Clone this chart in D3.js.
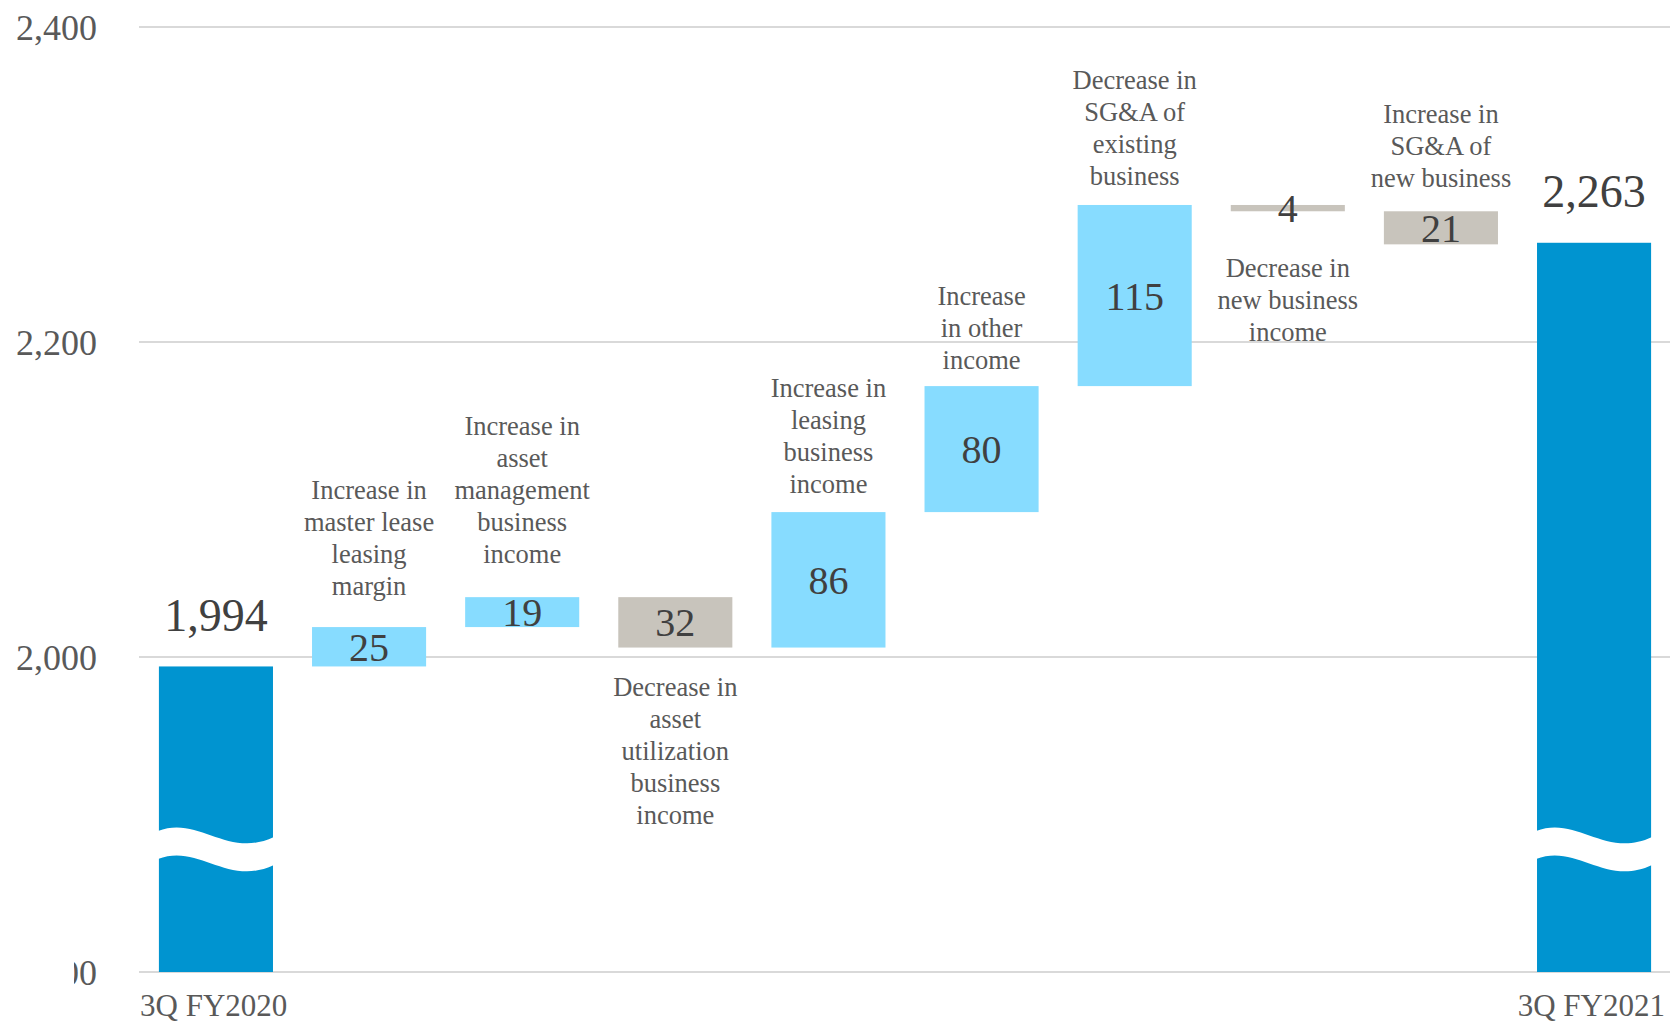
<html>
<head>
  <title>3Q FY2020 to 3Q FY2021 bridge</title>
  <script src="https://d3js.org/d3.v7.min.js"></script>
  <style>
  body{
    margin: 0;
    background: white;
  }
  text{
    font-family: "Liberation Serif", "Times New Roman", serif;
  }
  .grid{
    stroke: #d9d9d9;
    stroke-width: 2px;
  }
  .tick-label{
    fill: #595959;
    font-size: 36px;
  }
  .cat-label{
    fill: #595959;
    font-size: 31px;
  }
  .desc{
    fill: #595959;
    font-size: 26.5px;
  }
  .value{
    fill: #404040;
    font-size: 40px;
  }
  .total-value{
    fill: #404040;
    font-size: 46px;
  }
</style>
</head>
<body>
  <svg id="bridge" height="1025" width="1670">
  </svg>
  <script>
// data
const steps = ["start", "master", "assetMgmt", "assetUtil", "leasing", "other", "sgaExisting", "newBiz", "sgaNew", "end"];
const deltas = [1994, 25, 19, -32, 86, 80, 115, -4, -21, 2263];
const kinds = ["total", "up", "up", "down", "up", "up", "up", "down", "down", "total"];
const valueText = ["1,994", "25", "19", "32", "86", "80", "115", "4", "21", "2,263"];
const descLines = [
  [],
  ["Increase in", "master lease", "leasing", "margin"],
  ["Increase in", "asset", "management", "business", "income"],
  ["Decrease in", "asset", "utilization", "business", "income"],
  ["Increase in", "leasing", "business", "income"],
  ["Increase", "in other", "income"],
  ["Decrease in", "SG&A of", "existing", "business"],
  ["Decrease in", "new business", "income"],
  ["Increase in", "SG&A of", "new business"],
  []
];
const descSide = ["", "above", "above", "below", "above", "above", "above", "below", "above", ""];
const xLabels = ["3Q FY2020", "3Q FY2021"];
const yTicks = [1800, 2000, 2200, 2400];
const yBase = 1800;
const breakAt = 1880;

// layout
const svg = d3.select("#bridge");
const gridLeft = 139;
const gridRight = 1670;
const descGap = [0, 41, 43, 39, 28, 26, 29, 56, 34, 0];
const lineH = 32;
const colors = {total: "#0094d0", up: "#87dcff", down: "#c8c4bc"};

const x = d3.scaleBand()
  .domain(steps)
  .range([139, 1671])
  .paddingInner(0.255)
  .paddingOuter(0.13);

const y = d3.scaleLinear()
  .domain([1800, 2400])
  .range([972, 27]);

// running totals
let run = 0;
const bars = steps.map((s, i) => {
  let lo, hi;
  if (kinds[i] == "total") {
    lo = yBase; hi = deltas[i]; run = deltas[i];
  } else {
    const next = run + deltas[i];
    lo = Math.min(run, next); hi = Math.max(run, next);
    run = next;
  }
  return {key: s, lo: lo, hi: hi, kind: kinds[i], text: valueText[i], lines: descLines[i], side: descSide[i], gap: descGap[i]};
});

// y axis clip for the cut label
svg.append("defs").append("clipPath").attr("id", "axisClip")
  .append("rect").attr("x", 74).attr("y", 0).attr("width", 100).attr("height", 1025);

svg.selectAll(".grid").data(yTicks).enter()
  .append("line")
  .attr("class", "grid")
  .attr("x1", gridLeft).attr("x2", gridRight)
  .attr("y1", d => y(d)).attr("y2", d => y(d));

svg.selectAll(".tick-label").data(yTicks).enter()
  .append("text")
  .attr("class", "tick-label")
  .attr("x", 97)
  .attr("y", d => y(d))
  .attr("dy", "0.35em")
  .attr("text-anchor", "end")
  .attr("clip-path", d => d == yBase ? "url(#axisClip)" : null)
  .text(d => d3.format(",")(d));

svg.selectAll(".bar").data(bars).enter()
  .append("rect")
  .attr("class", "bar")
  .attr("x", d => x(d.key))
  .attr("width", x.bandwidth())
  .attr("y", d => y(d.hi))
  .attr("height", d => Math.max(y(d.lo) - y(d.hi), 1))
  .style("fill", d => colors[d.kind]);

// wavy break on the two total bars
const wave = d => {
  const x0 = x(d.key) - 1, w = x.bandwidth() + 2;
  const t = y(breakAt) - 15, b = t + 28;
  return "M" + x0 + "," + t +
    " C" + (x0 + 0.35 * w) + "," + (t - 16) + " " + (x0 + 0.6 * w) + "," + (t + 28) + " " + (x0 + w) + "," + (t + 6) +
    " L" + (x0 + w) + "," + (b + 6) +
    " C" + (x0 + 0.6 * w) + "," + (b + 28) + " " + (x0 + 0.35 * w) + "," + (b - 16) + " " + x0 + "," + b + " Z";
};
svg.selectAll(".wave").data(bars.filter(d => d.kind == "total")).enter()
  .append("path")
  .attr("class", "wave")
  .attr("d", wave)
  .style("fill", "white");

// values
svg.selectAll(".value").data(bars.filter(d => d.kind != "total")).enter()
  .append("text")
  .attr("class", "value")
  .attr("x", d => x(d.key) + x.bandwidth() / 2)
  .attr("y", d => (y(d.lo) + y(d.hi)) / 2)
  .attr("dy", "0.35em")
  .attr("text-anchor", "middle")
  .text(d => d.text);

svg.selectAll(".total-value").data(bars.filter(d => d.kind == "total")).enter()
  .append("text")
  .attr("class", "total-value")
  .attr("x", d => x(d.key) + x.bandwidth() / 2)
  .attr("y", d => y(d.hi) - 52)
  .attr("dy", "0.35em")
  .attr("text-anchor", "middle")
  .text(d => d.text);

// descriptions
bars.filter(d => d.lines.length > 0).forEach(d => {
  const n = d.lines.length;
  const first = d.side == "above" ? y(d.hi) - d.gap - (n - 1) * lineH : y(d.lo) + d.gap;
  const t = svg.append("text")
    .attr("class", "desc")
    .attr("text-anchor", "middle");
  d.lines.forEach((l, i) => {
    t.append("tspan")
      .attr("x", x(d.key) + x.bandwidth() / 2)
      .attr("y", first + i * lineH)
      .attr("dy", "0.35em")
      .text(l);
  });
});

// category labels at both ends
svg.append("text")
  .attr("class", "cat-label")
  .attr("x", gridLeft + 1)
  .attr("y", 1016)
  .text(xLabels[0]);
svg.append("text")
  .attr("class", "cat-label")
  .attr("x", 1665)
  .attr("y", 1016)
  .attr("text-anchor", "end")
  .text(xLabels[1]);
  </script>
</body>
</html>
